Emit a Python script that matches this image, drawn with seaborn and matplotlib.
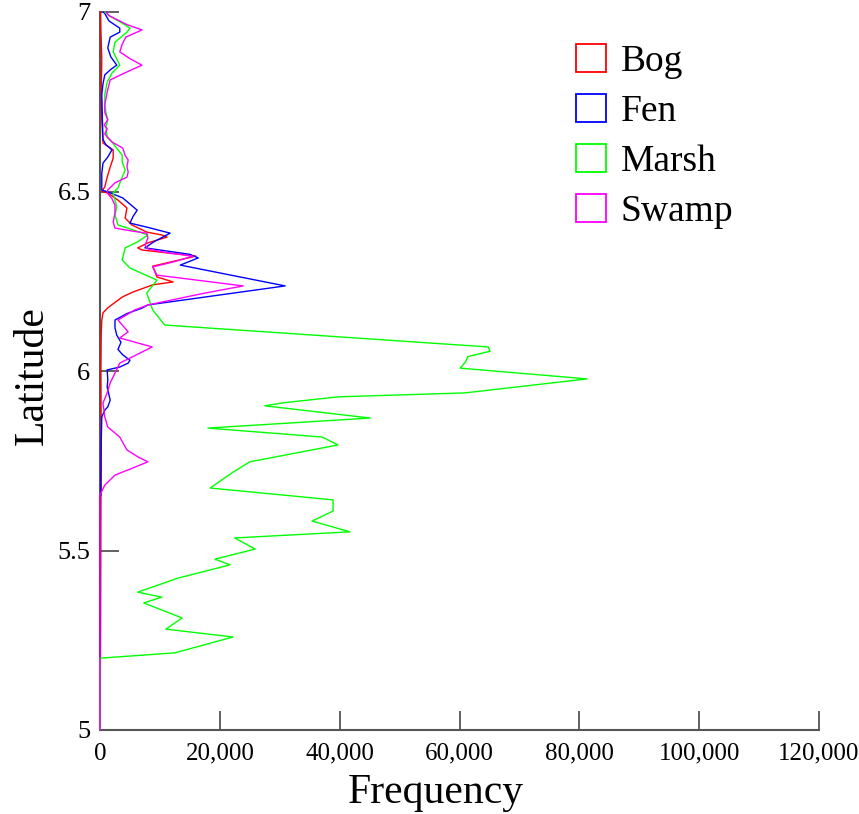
import matplotlib
matplotlib.use("Agg")
import matplotlib.pyplot as plt
from matplotlib.patches import Patch
from matplotlib.ticker import FuncFormatter, FixedLocator
import seaborn as sns
import pandas as pd

# ---- data ----
series_names = ["Bog", "Fen", "Marsh", "Swamp"]
series_colors = ["#ff0000", "#0000ff", "#00ff00", "#ff00ff"]

bog_lat = [5.00, 5.30, 5.60, 5.80, 6.00, 6.10, 6.142, 6.162, 6.176, 6.206, 6.220, 6.240, 6.248,
           6.262, 6.292, 6.320, 6.337, 6.343, 6.357, 6.373, 6.379, 6.387, 6.407, 6.426, 6.454,
           6.476, 6.496, 6.500, 6.513, 6.540, 6.568, 6.593, 6.616, 6.635, 6.700, 6.780, 6.866,
           6.950, 7.000]
bog_freq = [0, 100, 150, 200, 150, 200, 300, 500, 1300, 3700, 5500, 8800, 12200,
            9500, 8800, 16000, 7000, 6300, 8000, 11200, 10300, 7800, 5300, 4200, 4500,
            3000, 1300, 300, 800, 1200, 1700, 2200, 2200, 500, 300, 200, 300,
            150, 100]

fen_lat = [5.00, 5.65, 5.655, 5.70, 5.80, 5.872, 5.891, 5.900, 5.919, 5.955, 5.975, 6.003,
           6.011, 6.022, 6.030, 6.045, 6.060, 6.080, 6.100, 6.120, 6.142, 6.160, 6.175,
           6.184, 6.237, 6.295, 6.315, 6.325, 6.343, 6.360, 6.384, 6.400, 6.412, 6.430,
           6.448, 6.482, 6.499, 6.504, 6.550, 6.579, 6.596, 6.616, 6.630, 6.645, 6.700,
           6.770, 6.800, 6.825, 6.840, 6.852, 6.875, 6.900, 6.930, 6.944, 6.955, 6.975,
           6.996, 7.000]
fen_freq = [0, 0, 150, 150, 200, 300, 800, 1300, 1700, 1200, 1300, 1200,
            3300, 4700, 5000, 3800, 3000, 3500, 2800, 2500, 2500, 4500, 7000,
            8000, 30900, 13400, 16400, 15000, 7500, 9000, 11700, 8000, 5000, 5500,
            6200, 3800, 1300, 300, 300, 500, 1300, 2000, 1000, 500, 400,
            300, 500, 800, 1800, 2800, 1800, 1300, 1700, 3300, 3300, 1500,
            800, 500]

marsh_lat = [5.00, 5.20, 5.215, 5.259, 5.281, 5.312, 5.354, 5.370, 5.384, 5.423, 5.460,
             5.476, 5.504, 5.535, 5.552, 5.582, 5.610, 5.641, 5.674, 5.716, 5.747, 5.794,
             5.816, 5.841, 5.869, 5.903, 5.911, 5.928, 5.939, 5.978, 6.008, 6.025, 6.040,
             6.055, 6.067, 6.128, 6.170, 6.217, 6.253, 6.287, 6.309, 6.343, 6.359, 6.379,
             6.407, 6.435, 6.457, 6.496, 6.510, 6.560, 6.582, 6.602, 6.616, 6.638, 6.650,
             6.680, 6.699, 6.720, 6.741, 6.770, 6.805, 6.830, 6.852, 6.889, 6.916, 6.944,
             6.955, 6.964, 6.990, 7.000]
marsh_freq = [0, 0, 12500, 22200, 11000, 13700, 7300, 10300, 6300, 13000, 21700,
              19200, 25900, 22500, 41700, 35400, 38900, 38900, 18400, 22000, 25000, 39700,
              37100, 18000, 45100, 27500, 30400, 39700, 60900, 81300, 60100, 61000, 61400,
              65100, 64800, 10800, 8800, 7800, 9500, 5000, 3700, 4200, 6200, 8000,
              3000, 2500, 2800, 2200, 3000, 4200, 3700, 3700, 3000, 2000, 1200,
              1000, 1300, 1000, 800, 800, 1200, 2000, 3300, 2200, 2500, 4500,
              5000, 4200, 1500, 800]

swamp_lat = [5.00, 5.655, 5.682, 5.710, 5.730, 5.747, 5.760, 5.780, 5.816, 5.844, 5.872,
             5.911, 5.939, 5.967, 5.994, 6.022, 6.036, 6.067, 6.092, 6.109, 6.142, 6.170,
             6.184, 6.217, 6.237, 6.267, 6.290, 6.305, 6.320, 6.330, 6.340, 6.350, 6.370,
             6.384, 6.390, 6.398, 6.415, 6.440, 6.462, 6.480, 6.496, 6.504, 6.524, 6.540,
             6.554, 6.570, 6.588, 6.600, 6.621, 6.638, 6.660, 6.675, 6.685, 6.700, 6.720,
             6.741, 6.777, 6.811, 6.833, 6.852, 6.870, 6.889, 6.910, 6.930, 6.950, 6.965,
             6.990, 7.000]
swamp_freq = [0, 0, 800, 2500, 5500, 8000, 6400, 4500, 3300, 1300, 800,
              500, 1200, 1700, 2500, 3300, 5000, 8700, 3300, 4700, 3000, 5800,
              8000, 17500, 23900, 9500, 8800, 12500, 15500, 11000, 8000, 7500, 8000,
              7800, 5300, 2500, 2200, 2500, 2500, 2000, 1200, 1300, 2500, 4500,
              4700, 4500, 4700, 4200, 3800, 2000, 800, 1200, 700, 1300, 800,
              800, 1200, 1700, 4500, 7000, 5000, 3300, 3700, 4300, 7000, 4500,
              1500, 1000]

x_ticks = [0, 20000, 40000, 60000, 80000, 100000, 120000]
y_ticks = [5, 5.5, 6, 6.5, 7]

# ---- build long table ----
frames = []
for name, lat, freq in [("Bog", bog_lat, bog_freq), ("Fen", fen_lat, fen_freq),
                        ("Marsh", marsh_lat, marsh_freq), ("Swamp", swamp_lat, swamp_freq)]:
    frames.append(pd.DataFrame({"Latitude": lat, "Frequency": freq, "Type": name}))
df = pd.concat(frames, ignore_index=True)

sns.set_theme(style="white")
plt.rcParams["font.family"] = ["Liberation Serif", "DejaVu Serif"]
plt.rcParams["text.color"] = "black"

fig = plt.figure(figsize=(8.59, 8.14), dpi=100)
ax = fig.add_axes([100/859, 1 - 730/814, 719/859, 718/814])

palette = dict(zip(series_names, series_colors))
sns.lineplot(data=df, x="Frequency", y="Latitude", hue="Type", hue_order=series_names,
             palette=palette, orient="y", estimator=None, linewidth=1.0, legend=False, ax=ax)
for ln in ax.get_lines():
    ln.set_zorder(3)
    ln.set_clip_on(False)

ax.set_xlim(0, 120000)
ax.set_ylim(5, 7)
ax.xaxis.set_major_locator(FixedLocator(x_ticks))
ax.yaxis.set_major_locator(FixedLocator(y_ticks))
ax.xaxis.set_major_formatter(FuncFormatter(lambda v, p: f"{int(v):,}"))
ax.yaxis.set_major_formatter(FuncFormatter(lambda v, p: f"{v:g}"))

for s in ["top", "right"]:
    ax.spines[s].set_visible(False)
for s in ["left", "bottom"]:
    ax.spines[s].set_color("#555555")
    ax.spines[s].set_linewidth(1.5)
    ax.spines[s].set_zorder(2)

ax.tick_params(axis="both", which="major", bottom=True, left=True, top=False, right=False,
               direction="in", length=14, width=1.3, color="#555555",
               labelsize=18, labelcolor="black")
ax.tick_params(axis="x", pad=9)
ax.tick_params(axis="y", pad=7, labelsize=19)

ax.set_xlabel("Frequency", fontsize=30, color="black")
ax.set_ylabel("Latitude", fontsize=30, color="black")
ax.xaxis.set_label_coords(0.467, -0.060)
ax.yaxis.set_label_coords(-0.067, 0.494)

handles = [Patch(facecolor="white", edgecolor=c, linewidth=1.3, label=n)
           for n, c in zip(series_names, series_colors)]
leg = ax.legend(handles=handles, loc="upper left", bbox_to_anchor=(0.641, 0.9765),
                fontsize=27, frameon=False, handlelength=0.8, handleheight=0.77,
                labelspacing=0.4, handletextpad=0.4, borderaxespad=0)
for t in leg.get_texts():
    t.set_color("black")

fig.savefig("out.png", dpi=100, facecolor="white")
